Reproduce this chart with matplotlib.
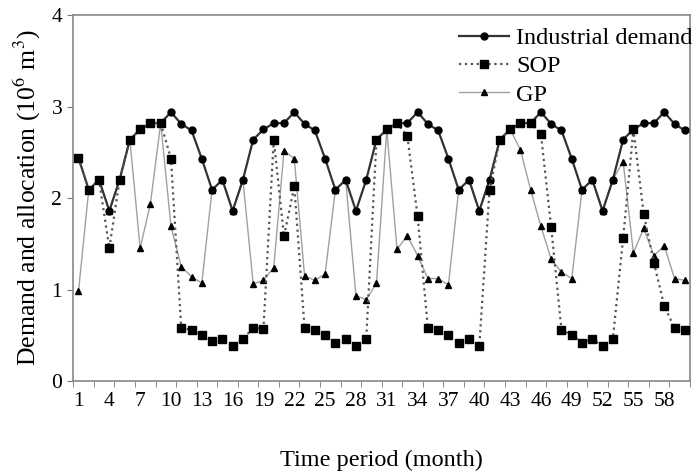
import matplotlib
matplotlib.use('Agg')
import matplotlib.pyplot as plt
import numpy as np

plt.rcParams['font.family'] = ['Liberation Serif', 'DejaVu Serif']
plt.rcParams['mathtext.fontset'] = 'stix'

# Monthly values (10^6 m3)
months = list(range(1, 61))
industrial_demand = [2.44, 2.09, 2.20, 1.86, 2.20, 2.64, 2.75, 2.82, 2.82, 2.94, 2.81, 2.74,
                     2.43, 2.09, 2.20, 1.86, 2.20, 2.64, 2.75, 2.82, 2.82, 2.94, 2.81, 2.74,
                     2.43, 2.09, 2.20, 1.86, 2.20, 2.64, 2.75, 2.82, 2.82, 2.94, 2.81, 2.74,
                     2.43, 2.09, 2.20, 1.86, 2.20, 2.64, 2.75, 2.82, 2.82, 2.94, 2.81, 2.74,
                     2.43, 2.09, 2.20, 1.86, 2.20, 2.64, 2.75, 2.82, 2.82, 2.94, 2.81, 2.74]
sop = [2.44, 2.09, 2.20, 1.45, 2.20, 2.64, 2.75, 2.82, 2.82, 2.43, 0.58, 0.56,
       0.50, 0.44, 0.46, 0.38, 0.46, 0.58, 0.57, 2.64, 1.58, 2.13, 0.58, 0.56,
       0.50, 0.42, 0.46, 0.38, 0.46, 2.64, 2.75, 2.82, 2.68, 1.80, 0.58, 0.56,
       0.50, 0.42, 0.46, 0.38, 2.09, 2.64, 2.75, 2.82, 2.82, 2.70, 1.68, 0.56,
       0.50, 0.42, 0.46, 0.38, 0.46, 1.56, 2.75, 1.83, 1.29, 0.82, 0.58, 0.56]
gp = [0.98, 2.09, 2.20, 1.86, 2.20, 2.64, 1.45, 1.94, 2.82, 1.69, 1.25, 1.14,
      1.07, 2.09, 2.20, 1.86, 2.20, 1.06, 1.10, 1.24, 2.52, 2.43, 1.15, 1.10,
      1.17, 2.09, 2.20, 0.93, 0.89, 1.07, 2.75, 1.44, 1.59, 1.37, 1.12, 1.12,
      1.05, 2.09, 2.20, 1.86, 2.20, 2.64, 2.75, 2.53, 2.09, 1.69, 1.33, 1.19,
      1.12, 2.09, 2.20, 1.86, 2.20, 2.40, 1.40, 1.67, 1.37, 1.48, 1.12, 1.10]
x_labels = list(range(1, 59, 3))

fig = plt.figure(figsize=(6.92, 4.75), dpi=100)
ax = fig.add_axes([0.106, 0.198, 0.891, 0.770])

# Plot the three series
l_gp, = ax.plot(months, gp, '-', color='#a0a0a0', lw=1.0, marker='^', ms=5,
                mfc='black', mec='black', zorder=2, label='GP')
l_dem, = ax.plot(months, industrial_demand, '-', color='#333333', lw=1.6, marker='o', ms=5,
                 mfc='black', mec='black', zorder=3, label='Industrial demand')
l_sop, = ax.plot(months, sop, ':', color='#555555', lw=1.6, marker='s', ms=5.5,
                 mfc='black', mec='black', zorder=4, label='SOP')

# Axes limits and ticks
ax.set_xlim(0.5, 60.5)
ax.set_ylim(0, 4)
ax.set_xticks(x_labels)
ax.set_xticks(np.arange(0.5, 61, 2), minor=True)
ax.tick_params(axis='x', which='major', length=0, labelsize=15.5, pad=8)
ax.tick_params(axis='x', which='minor', length=4, color='#777777', direction='out')
ax.set_yticks([0, 1, 2, 3, 4])
ax.tick_params(axis='y', length=4, color='#777777', labelsize=15.5, pad=4)
for s in ax.spines.values():
    s.set_color('#888888')
    s.set_linewidth(1.2)

# Labels
ax.set_xlabel('Time period (month)', fontsize=17.5, labelpad=28)
ax.set_ylabel('Demand and allocation (10$^6$ m$^3$)', fontsize=18.5, labelpad=6)

ax.legend(handles=[l_dem, l_sop, l_gp], loc='upper right', bbox_to_anchor=(1.004, 0.948),
          bbox_transform=fig.transFigure, frameon=False, fontsize=17.5,
          handlelength=2.05, handletextpad=0.3, labelspacing=0.26,
          borderaxespad=0, borderpad=0.1)

fig.savefig('out.png', dpi=100)
